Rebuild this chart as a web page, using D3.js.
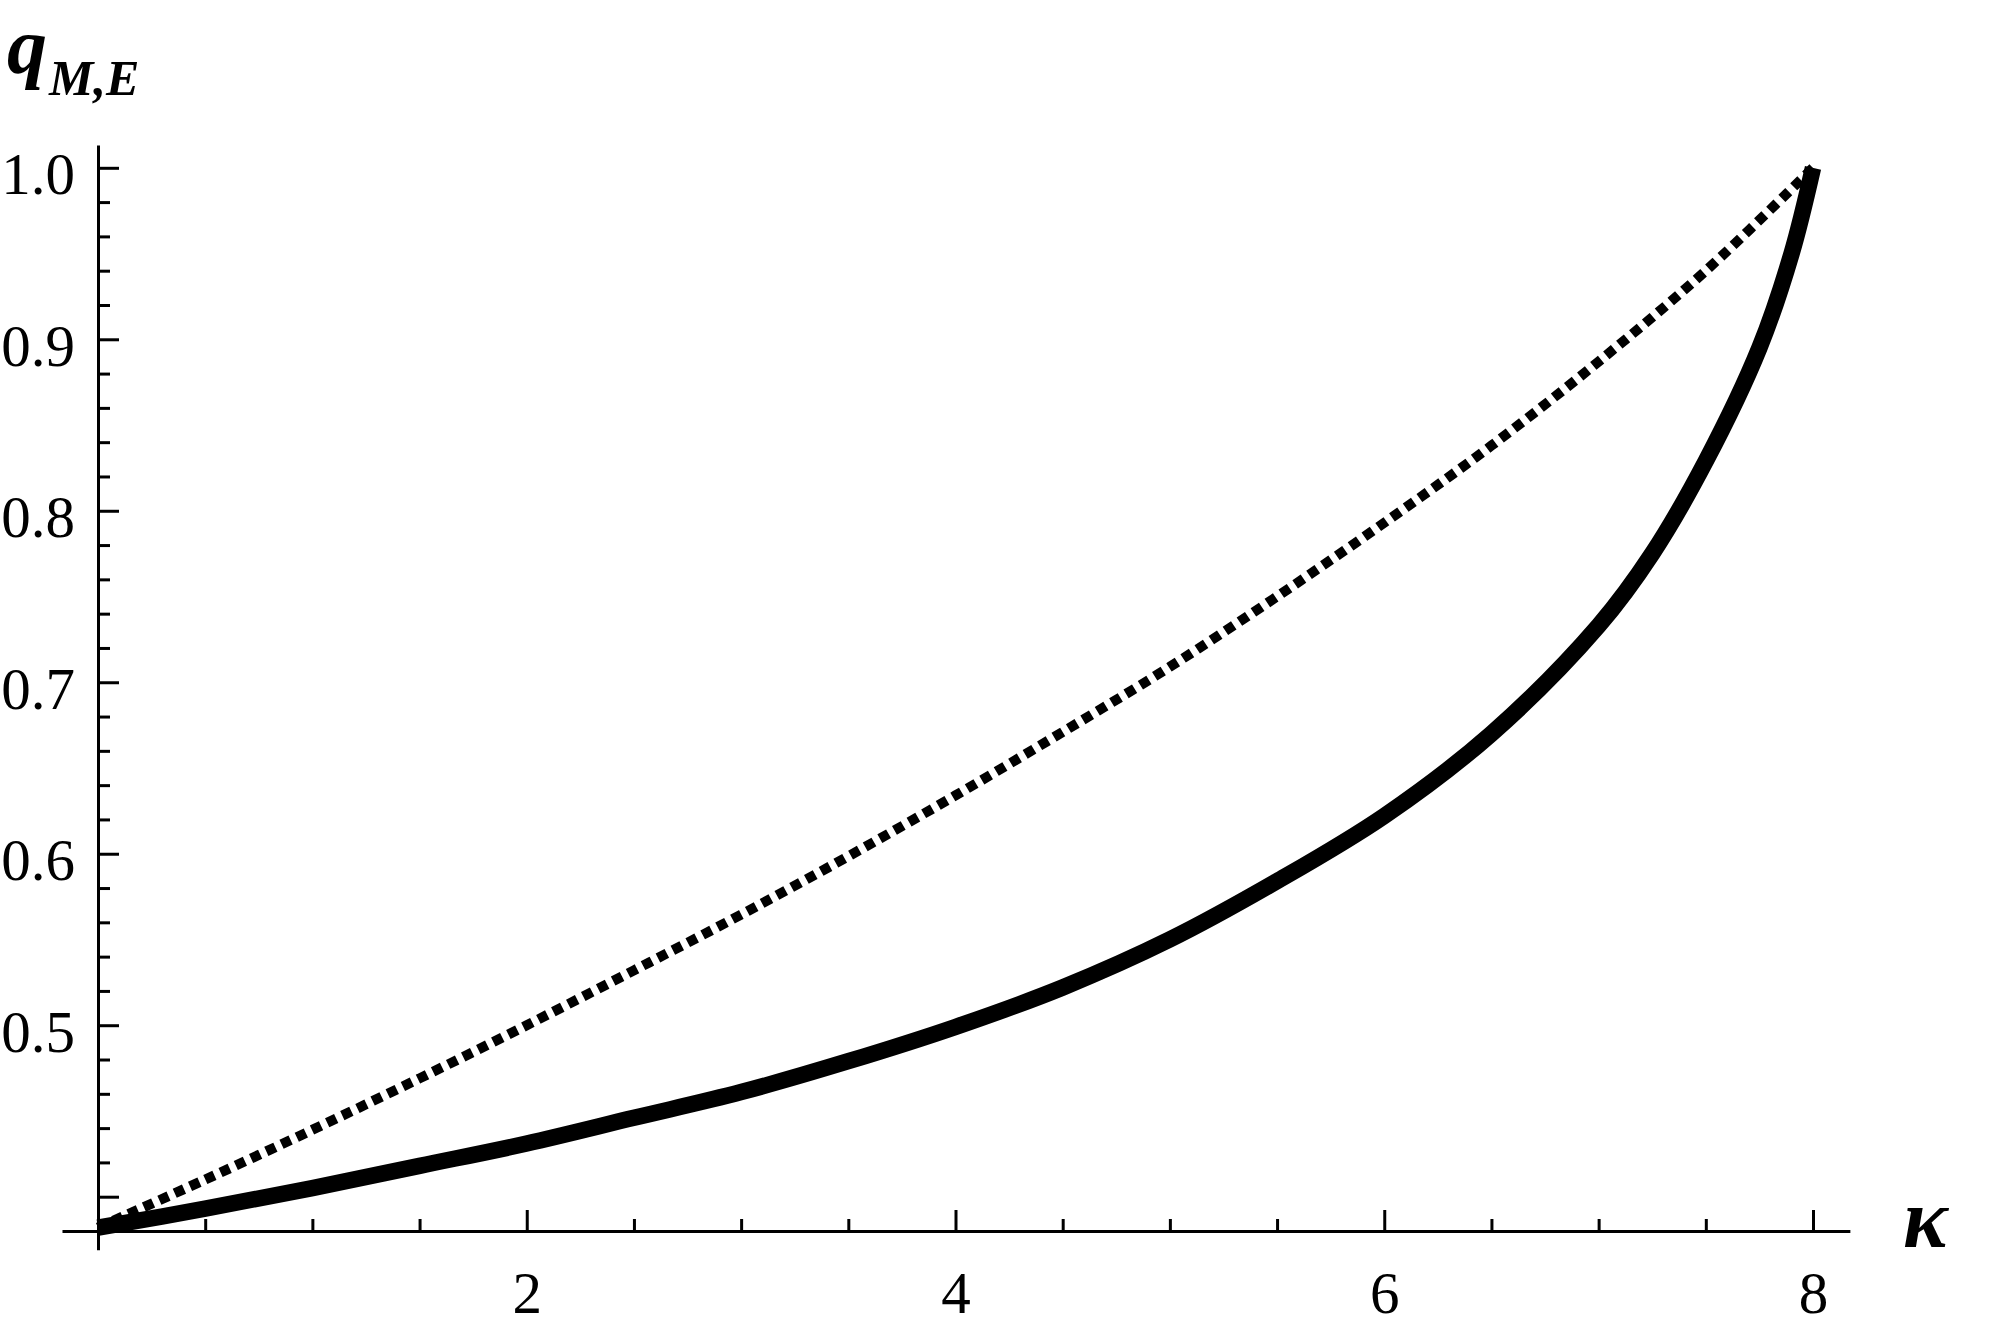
<!DOCTYPE html>
<html><head><meta charset="utf-8">
<script src="https://cdn.jsdelivr.net/npm/d3@7"></script>
<style>html,body{margin:0;padding:0;background:#fff;} svg{display:block;background:#fff;}</style>
</head><body>
<svg id="chart" width="2005" height="1332"></svg>
<script>
// ---- data ----
const kappaSolid = [0, 0.5, 1, 1.5, 2, 2.5, 3, 3.5, 4, 4.5, 5, 5.5, 6, 6.5, 7, 7.25, 7.5, 7.75, 7.9, 8];
const qSolid     = [0.382, 0.393, 0.405, 0.418, 0.431, 0.446, 0.461, 0.479, 0.499, 0.522, 0.550, 0.584, 0.622, 0.670, 0.733, 0.775, 0.829, 0.895, 0.950, 1.0];
const kappaDotted = [0, 0.5, 1, 1.5, 2, 2.5, 3, 3.5, 4, 4.5, 5, 5.5, 6, 6.5, 7, 7.5, 8];
const qDotted     = [0.382, 0.410, 0.439, 0.469, 0.500, 0.532, 0.5645, 0.5985, 0.634, 0.671, 0.709, 0.750, 0.793, 0.838, 0.887, 0.940, 1.0];
const xMajorTicks = [2, 4, 6, 8];
const xTickLabels = ["2", "4", "6", "8"];
const xMinorTicks = [0.5, 1, 1.5, 2.5, 3, 3.5, 4.5, 5, 5.5, 6.5, 7, 7.5];
const yMajorTicks = [0.4, 0.5, 0.6, 0.7, 0.8, 0.9, 1.0];
const yTickLabels = ["", "0.5", "0.6", "0.7", "0.8", "0.9", "1.0"];
const yMinorTicks = [0.42, 0.44, 0.46, 0.48, 0.52, 0.54, 0.56, 0.58, 0.62, 0.64, 0.66, 0.68,
                     0.72, 0.74, 0.76, 0.78, 0.82, 0.84, 0.86, 0.88, 0.92, 0.94, 0.96, 0.98];
const xAxisTitle = "κ";
const yAxisTitleMain = "q";
const yAxisTitleSub = "M,E";

// ---- layout ----
const FONT = "'Liberation Serif','Times New Roman',serif";
const svg = d3.select("#chart");
const x = d3.scaleLinear().domain([0, 8]).range([98, 1813]);
const y = d3.scaleLinear().domain([0.38, 1.0]).range([1231, 167.8]);

// extended scales for the axis lines (same mapping, longer extent)
const xExt = x.copy().domain([-0.168, 8.172]).range([x(-0.168), x(8.172)]);
const yExt = y.copy().domain([0.369, 1.0133]).range([y(0.369), y(1.0133)]);

function styleAxis(g) {
  g.attr("font-family", FONT).attr("font-size", 59);
  g.selectAll(".domain").attr("stroke", "#000").attr("stroke-width", 3);
  g.selectAll(".tick line").attr("stroke", "#000").attr("stroke-width", 3);
  g.selectAll(".tick text").attr("fill", "#000");
}

// x axis (major)
const gx = svg.append("g").attr("transform", `translate(0,${y(0.38)})`);
gx.call(d3.axisBottom(xExt).tickValues(xMajorTicks).tickSizeInner(-21).tickSizeOuter(0)
  .tickFormat((d, i) => xTickLabels[i]));
styleAxis(gx);
gx.selectAll(".tick text").attr("y", 82).attr("dy", 0);
// x axis (minor)
const gxm = svg.append("g").attr("transform", `translate(0,${y(0.38)})`);
gxm.call(d3.axisBottom(x).tickValues(xMinorTicks).tickSizeInner(-12).tickSizeOuter(0).tickFormat(""));
gxm.select(".domain").remove();
styleAxis(gxm);

// y axis (major)
const gy = svg.append("g").attr("transform", `translate(${x(0)},0)`);
gy.call(d3.axisLeft(yExt).tickValues(yMajorTicks).tickSizeInner(-21).tickSizeOuter(0).tickPadding(23)
  .tickFormat((d, i) => yTickLabels[i]));
styleAxis(gy);
gy.selectAll(".tick text").attr("dy", "0.44em");
// y axis (minor)
const gym = svg.append("g").attr("transform", `translate(${x(0)},0)`);
gym.call(d3.axisLeft(y).tickValues(yMinorTicks).tickSizeInner(-12).tickSizeOuter(0).tickFormat(""));
gym.select(".domain").remove();
styleAxis(gym);

// curves
const line = d3.line().x(d => x(d[0])).y(d => y(d[1])).curve(d3.curveCatmullRom.alpha(0.5));
const dottedData = kappaDotted.map((k, i) => [k, qDotted[i]]);
const solidData = kappaSolid.map((k, i) => [k, qSolid[i]]);
svg.append("path").datum(dottedData).attr("d", line)
  .attr("fill", "none").attr("stroke", "#000").attr("stroke-width", 10)
  .attr("stroke-dasharray", "10,6.8").attr("stroke-linecap", "butt");
svg.append("path").datum(solidData).attr("d", line)
  .attr("fill", "none").attr("stroke", "#000").attr("stroke-width", 16.5)
  .attr("stroke-linecap", "butt").attr("stroke-linejoin", "round");

// axis titles
const yt = svg.append("text").attr("x", 7).attr("y", 73)
  .attr("font-family", FONT).attr("font-weight", "bold").attr("font-style", "italic").attr("fill", "#000");
yt.append("tspan").attr("font-size", 80).text(yAxisTitleMain);
yt.append("tspan").attr("font-size", 50).attr("dy", 22).attr("dx", 2).text(yAxisTitleSub);

svg.append("text").attr("x", 1903).attr("y", 1247)
  .attr("font-family", FONT).attr("font-weight", "bold").attr("font-style", "italic")
  .attr("font-size", 84).attr("fill", "#000").text(xAxisTitle);
</script>
</body></html>
